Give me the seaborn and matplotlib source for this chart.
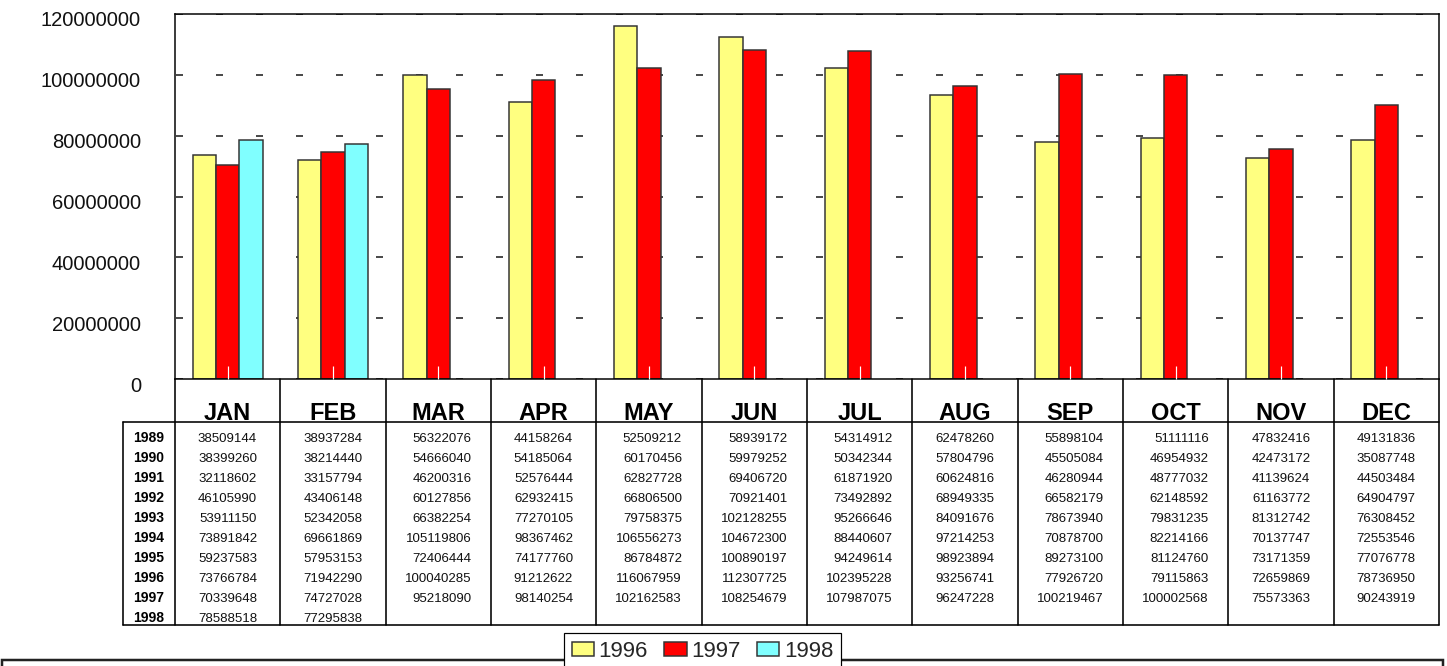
import numpy as np
import pandas as pd
import matplotlib
matplotlib.use("Agg")
import matplotlib.pyplot as plt
import matplotlib.transforms as mtransforms
from matplotlib.lines import Line2D
from matplotlib.patches import Rectangle
from matplotlib.ticker import FuncFormatter
import seaborn as sns

# ---------------- data ----------------
months = ["JAN", "FEB", "MAR", "APR", "MAY", "JUN", "JUL", "AUG", "SEP", "OCT", "NOV", "DEC"]
years = ["1989", "1990", "1991", "1992", "1993", "1994", "1995", "1996", "1997", "1998"]
y1989 = [38509144, 38937284, 56322076, 44158264, 52509212, 58939172, 54314912, 62478260, 55898104, 51111116, 47832416, 49131836]
y1990 = [38399260, 38214440, 54666040, 54185064, 60170456, 59979252, 50342344, 57804796, 45505084, 46954932, 42473172, 35087748]
y1991 = [32118602, 33157794, 46200316, 52576444, 62827728, 69406720, 61871920, 60624816, 46280944, 48777032, 41139624, 44503484]
y1992 = [46105990, 43406148, 60127856, 62932415, 66806500, 70921401, 73492892, 68949335, 66582179, 62148592, 61163772, 64904797]
y1993 = [53911150, 52342058, 66382254, 77270105, 79758375, 102128255, 95266646, 84091676, 78673940, 79831235, 81312742, 76308452]
y1994 = [73891842, 69661869, 105119806, 98367462, 106556273, 104672300, 88440607, 97214253, 70878700, 82214166, 70137747, 72553546]
y1995 = [59237583, 57953153, 72406444, 74177760, 86784872, 100890197, 94249614, 98923894, 89273100, 81124760, 73171359, 77076778]
y1996 = [73766784, 71942290, 100040285, 91212622, 116067959, 112307725, 102395228, 93256741, 77926720, 79115863, 72659869, 78736950]
y1997 = [70339648, 74727028, 95218090, 98140254, 102162583, 108254679, 107987075, 96247228, 100219467, 100002568, 75573363, 90243919]
y1998 = [78588518, 77295838]
chart_years = ["1996", "1997", "1998"]
colors = ["#FFFF80", "#FF0000", "#80FFFF"]
y_ticks = [0, 20000000, 40000000, 60000000, 80000000, 100000000, 120000000]

table_rows = [y1989, y1990, y1991, y1992, y1993, y1994, y1995, y1996, y1997, y1998]
chart_series = {"1996": y1996, "1997": y1997, "1998": y1998}

recs = []
for yr in chart_years:
    vals = chart_series[yr]
    for i, m in enumerate(months):
        recs.append({"month": m, "year": yr, "value": vals[i] if i < len(vals) else np.nan})
df = pd.DataFrame(recs)

# ---------------- figure ----------------
W, H = 1447, 666
sns.set_style("white")
plt.rcParams["font.family"] = ["Liberation Sans", "DejaVu Sans"]
plt.rcParams["lines.scale_dashes"] = False

fig = plt.figure(figsize=(W / 100, H / 100), dpi=100)
fig.patch.set_facecolor("white")

def fx(px):
    return px / W

def fy(py):
    return 1 - py / H

PT = 0.72  # points per pixel at dpi 100

ax = fig.add_axes([fx(175), fy(379), fx(1439) - fx(175), fy(14) - fy(379)])
sns.barplot(data=df, x="month", y="value", hue="year", order=months, hue_order=chart_years,
            palette=colors, saturation=1, width=0.665, errorbar=None,
            edgecolor="#333333", linewidth=1.5 * PT, ax=ax, zorder=2)

handles, labels = ax.get_legend_handles_labels()
if ax.get_legend() is not None:
    ax.get_legend().remove()

ax.set_xlim(-0.5, len(months) - 0.5)
ax.set_ylim(y_ticks[0], y_ticks[-1])
ax.set_yticks(y_ticks)
ax.yaxis.set_major_formatter(FuncFormatter(lambda v, p: f"{int(round(v))}"))
ax.set_xlabel("")
ax.set_ylabel("")
ax.tick_params(axis="x", length=0, labelbottom=False)
ax.tick_params(axis="y", length=0, pad=34 * PT, labelsize=14.5, labelcolor="#111111")
offset = mtransforms.ScaledTranslation(0, -5 / 100, fig.dpi_scale_trans)
for lab in ax.get_yticklabels():
    lab.set_transform(lab.get_transform() + offset)

ax.set_axisbelow(True)
ax.yaxis.grid(True, color="#111111", linewidth=1.5 * PT,
              linestyle=(39 * PT, (7 * PT, 33 * PT)))
ax.xaxis.grid(False)
for s in ax.spines.values():
    s.set_visible(True)
    s.set_color("black")
    s.set_linewidth(1.5 * PT)

# white tick marks at category centres drawn over the bars
ax.plot(np.arange(len(months)), np.zeros(len(months)), ls="", marker=2,
        markersize=13 * PT, color="white", markeredgewidth=1.2 * PT, zorder=5, clip_on=False)

# ---------------- data table ----------------
blend = mtransforms.blended_transform_factory(ax.transData, fig.transFigure)
lw_tab = 1.6 * PT
x_right = ax.get_position().x1
top_tab, head_bot, bot_tab = 379, 422, 625
for i in range(len(months) + 1):
    fig.add_artist(Line2D([i - 0.5, i - 0.5], [fy(top_tab), fy(bot_tab)], transform=blend,
                          color="black", lw=lw_tab, clip_on=False))
fig.add_artist(Line2D([fx(123), x_right], [fy(head_bot), fy(head_bot)], transform=fig.transFigure,
                      color="black", lw=lw_tab))
fig.add_artist(Line2D([fx(123), x_right], [fy(bot_tab), fy(bot_tab)], transform=fig.transFigure,
                      color="black", lw=lw_tab))
fig.add_artist(Line2D([fx(123), fx(123)], [fy(head_bot), fy(bot_tab)], transform=fig.transFigure,
                      color="black", lw=lw_tab))

for i, m in enumerate(months):
    fig.text(i, fy(420), m, transform=blend, ha="center", va="baseline",
             fontsize=17, fontweight="bold", color="black")

digit_w = 13.2 * 0.556  # px per digit at 9.5pt
px_per_unit = (fx(1439) - fx(175)) * W / len(months)
for k, (yr, row) in enumerate(zip(years, table_rows)):
    base = 442 + 20 * k
    fig.text(fx(149), fy(base), yr, ha="center", va="baseline", fontsize=10,
             fontweight="bold", color="black")
    for i, v in enumerate(row):
        col_vals = [r[i] for r in table_rows if i < len(r)]
        maxlen = max(len(str(c)) for c in col_vals)
        xr = i + (maxlen * digit_w / 2) / px_per_unit
        fig.text(xr, fy(base), str(v), transform=blend, ha="right", va="baseline",
                 fontsize=9.5, color="#111111")

# ---------------- outer box + legend ----------------
fig.add_artist(Rectangle((fx(2), -0.1), fx(1443) - fx(2), fy(660) + 0.1, transform=fig.transFigure,
                         fill=False, edgecolor="#222222", linewidth=2.5 * PT, zorder=1))

leg = fig.legend(handles, labels, loc="upper left", bbox_to_anchor=(fx(564), fy(633)),
                 ncol=3, frameon=True, fancybox=False, framealpha=1, edgecolor="black",
                 fontsize=16, handlelength=1.0, handleheight=0.65, handletextpad=0.2,
                 columnspacing=0.75, borderpad=0.35, borderaxespad=0)
leg.get_frame().set_linewidth(1.2 * PT)
leg.set_zorder(10)

fig.savefig("out.png", dpi=100, facecolor="white")
